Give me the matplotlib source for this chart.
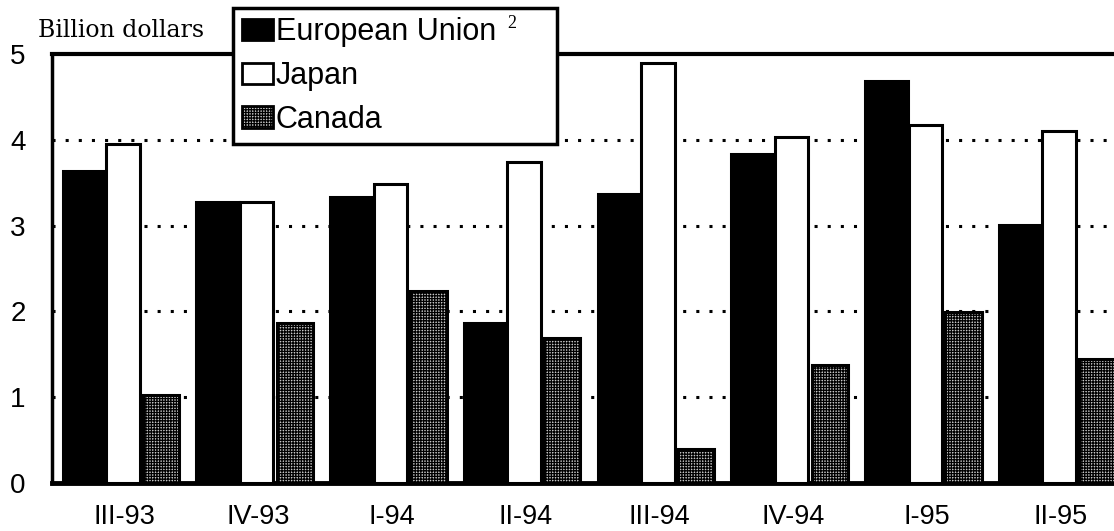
import numpy as np
import matplotlib
matplotlib.use("Agg")
import matplotlib.pyplot as plt
from matplotlib.patches import Patch

quarters = ["III-93", "IV-93", "I-94", "II-94", "III-94", "IV-94", "I-95", "II-95"]
eu = [3.64, 3.28, 3.33, 1.87, 3.37, 3.84, 4.68, 3.01]
japan = [3.95, 3.28, 3.49, 3.74, 4.89, 4.03, 4.17, 4.10]
canada = [1.03, 1.86, 2.24, 1.69, 0.40, 1.38, 1.99, 1.44]
yticks = [0, 1, 2, 3, 4, 5]

plt.rcParams["font.family"] = ["Liberation Sans", "DejaVu Sans"]
plt.rcParams["hatch.linewidth"] = 0.9
plt.rcParams["hatch.color"] = "black"

CANADA_FACE = "#c8c8c8"
CANADA_HATCH = "++++++"

fig = plt.figure(figsize=(11.14, 5.31), dpi=100)
ax = fig.add_axes([52 / 1114, 1 - 483 / 531, 1 - 52 / 1114, (483 - 54) / 531])

x = np.arange(len(quarters))
ax.bar(x - 0.30, eu, 0.32, color="black", edgecolor="black", linewidth=2.2, zorder=3)
ax.bar(x - 0.01, japan, 0.25, color="white", edgecolor="black", linewidth=2.2, zorder=4)
ax.bar(x + 0.275, canada, 0.27, color=CANADA_FACE, edgecolor="black", linewidth=2.2,
       hatch=CANADA_HATCH, zorder=3)

ax.set_xlim(-0.54, 7.40)
ax.set_ylim(0, 5)
ax.set_yticks(yticks)
ax.set_yticklabels([str(v) for v in yticks], fontsize=20)
ax.set_xticks(x)
ax.set_xticklabels(quarters, fontsize=19.5)
ax.tick_params(axis="both", length=0)
ax.tick_params(axis="x", pad=15)
ax.tick_params(axis="y", pad=19)

# dotted gridlines behind the bars
for yv in [1, 2, 3, 4]:
    ax.axhline(yv, color="black", linewidth=2.2, linestyle=(0, (1.0, 3.3)), zorder=1)

ax.spines["right"].set_visible(False)
ax.spines["left"].set_linewidth(2.5)
ax.spines["top"].set_linewidth(3)
ax.spines["bottom"].set_linewidth(3.5)

fig.text(38 / 1114, 1 - 31 / 531, "Billion dollars", fontsize=17,
         family=["DejaVu Serif"], va="center", ha="left")

handles = [
    Patch(facecolor="black", edgecolor="black", linewidth=2),
    Patch(facecolor="white", edgecolor="black", linewidth=2),
    Patch(facecolor=CANADA_FACE, edgecolor="black", linewidth=2, hatch=CANADA_HATCH),
]
leg = fig.legend(handles, ["European Union", "Japan", "Canada"],
                 loc="upper left",
                 bbox_to_anchor=(233 / 1114, 1 - 147 / 531, 324 / 1114, 139 / 531),
                 mode="expand",
                 fontsize=22, frameon=True, fancybox=False, framealpha=1,
                 handlelength=1.0, handleheight=0.7, handletextpad=0.1,
                 borderpad=0.3, labelspacing=0.45, borderaxespad=0)
leg.get_frame().set_edgecolor("black")
leg.get_frame().set_linewidth(2.5)
leg.set_zorder(10)
fig.text(512 / 1114, 1 - 23 / 531, "2", fontsize=13,
         family=["Liberation Serif", "DejaVu Serif"], va="center", ha="center", zorder=11)

fig.savefig("out.png", dpi=100)
